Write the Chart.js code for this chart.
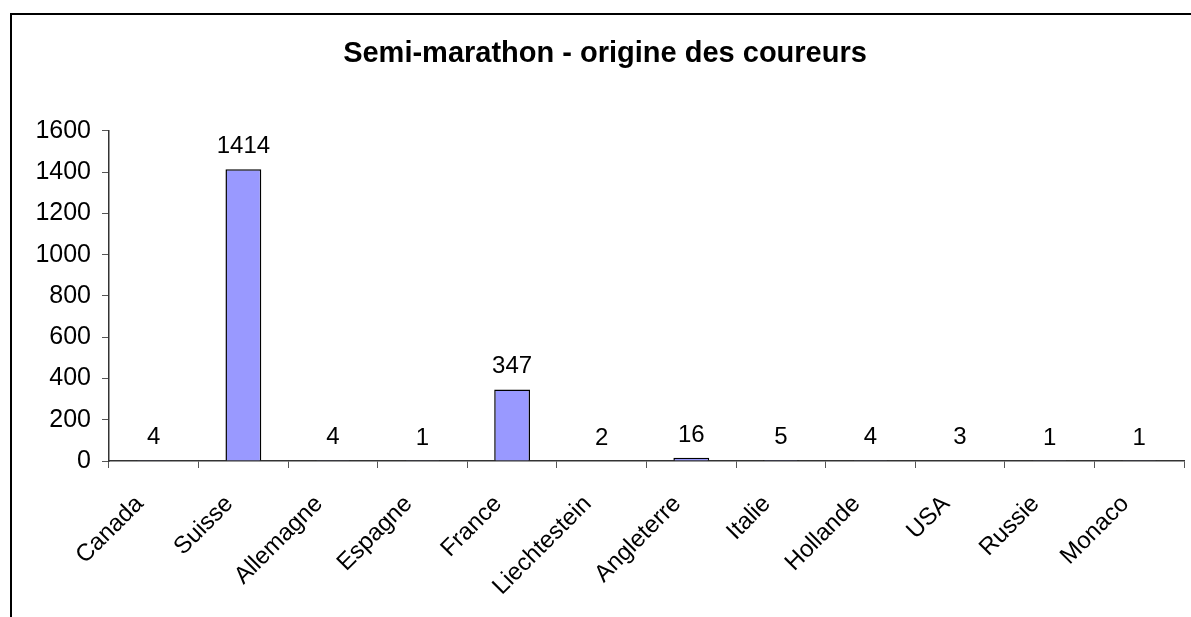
<!DOCTYPE html>
<html>
<head>
<meta charset="utf-8">
<script src="https://cdn.jsdelivr.net/npm/chart.js@4.4.1/dist/chart.umd.min.js"></script>
<style>
  html, body { margin: 0; padding: 0; background: #fff; overflow: hidden; }
  #wrap { position: relative; width: 1191px; height: 617px; }
  #frame { position: absolute; left: 10px; top: 13px; width: 1300px; height: 700px;
           border-left: 2px solid #000; border-top: 2px solid #000; pointer-events: none; }
</style>
</head>
<body>
<div id="wrap">
  <canvas id="chart" width="1191" height="617"></canvas>
  <div id="frame"></div>
</div>
<script>
const countries = ['Canada', 'Suisse', 'Allemagne', 'Espagne', 'France', 'Liechtestein',
  'Angleterre', 'Italie', 'Hollande', 'USA', 'Russie', 'Monaco'];
const runners = [4, 1414, 4, 1, 347, 2, 16, 5, 4, 3, 1, 1];
const yTicks = [0, 200, 400, 600, 800, 1000, 1200, 1400, 1600];

const FONT = 'Liberation Sans, Arial, sans-serif';

// valeurs au-dessus des barres
const valueLabels = {
  id: 'valueLabels',
  afterDatasetsDraw(chart) {
    const ctx = chart.ctx;
    const meta = chart.getDatasetMeta(0);
    ctx.save();
    ctx.font = '24px ' + FONT;
    ctx.fillStyle = '#000';
    ctx.textAlign = 'center';
    ctx.textBaseline = 'alphabetic';
    meta.data.forEach((bar, i) => {
      ctx.fillText(String(runners[i]), bar.x, bar.y - 16);
    });
    ctx.restore();
  }
};

new Chart(document.getElementById('chart'), {
  type: 'bar',
  data: {
    labels: countries,
    datasets: [{
      data: runners,
      backgroundColor: '#9999FF',
      borderColor: '#000',
      borderWidth: 1.5,
      borderSkipped: 'bottom',
      categoryPercentage: 1,
      barPercentage: 0.4
    }]
  },
  options: {
    responsive: false,
    animation: false,
    layout: { padding: { left: 26, right: 7, top: 0, bottom: 0 } },
    plugins: {
      legend: { display: false },
      tooltip: { enabled: false },
      title: {
        display: true,
        text: 'Semi-marathon - origine des coureurs',
        color: '#000',
        font: { family: FONT, size: 29, weight: 'bold' },
        padding: { top: 37, bottom: 59 }
      }
    },
    scales: {
      x: {
        grid: { offset: true, drawOnChartArea: false, tickLength: 7, color: '#555' },
        border: { color: '#333', width: 1.5 },
        ticks: {
          color: '#000',
          font: { family: FONT, size: 24 },
          maxRotation: 45,
          minRotation: 45,
          padding: 22,
          labelOffset: -14
        },
        afterFit(scale) { scale.height = 156; }
      },
      y: {
        min: 0,
        max: 1600,
        grid: { drawOnChartArea: false, tickLength: 7, color: '#555' },
        border: { color: '#333', width: 1.5 },
        ticks: {
          stepSize: 200,
          color: '#000',
          font: { family: FONT, size: 25 },
          padding: 11,
          callback: (v) => yTicks.includes(v) ? String(v) : ''
        },
        afterFit(scale) { scale.width = 83; }
      }
    }
  },
  plugins: [valueLabels]
});
</script>
</body>
</html>
